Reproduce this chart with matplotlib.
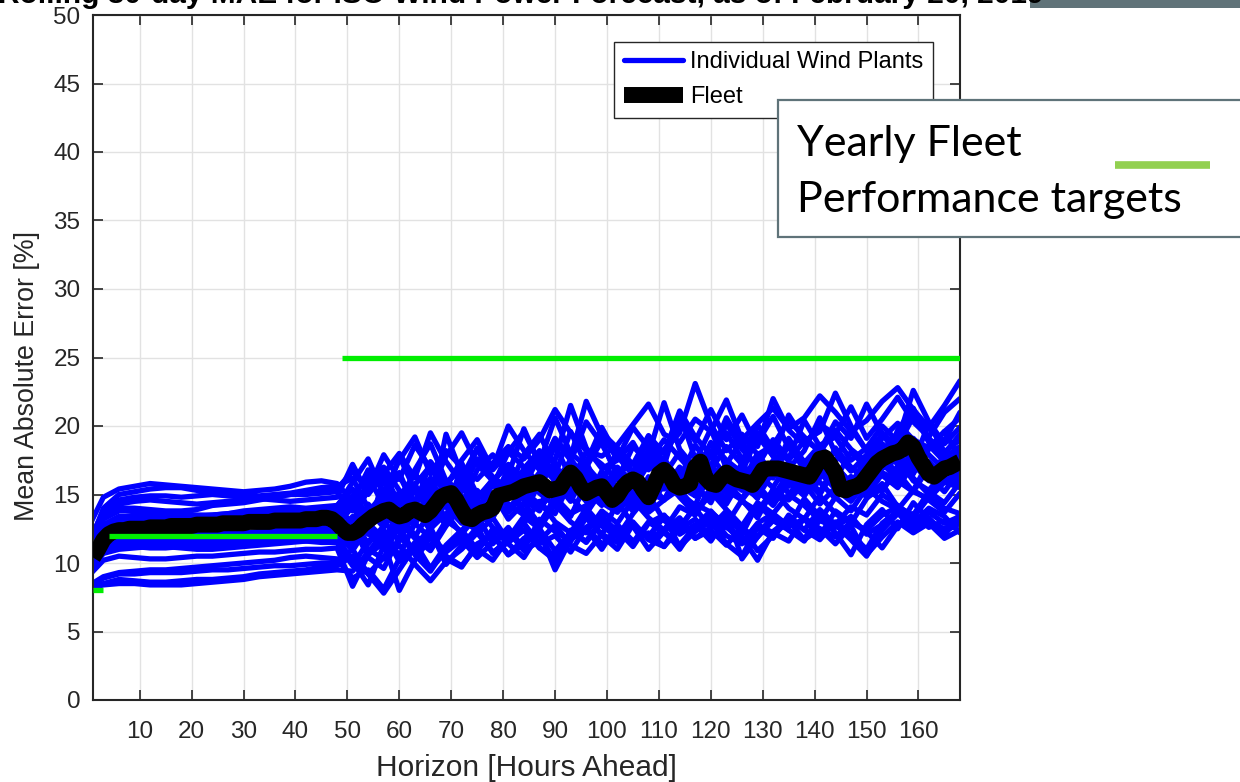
import matplotlib
matplotlib.use("Agg")
import matplotlib.pyplot as plt
from matplotlib.patches import Rectangle
from matplotlib.lines import Line2D

# ---------------- data ----------------
TITLE = "Rolling 30-day MAE for ISO Wind Power Forecast, as of February 20, 2019"
X_LABEL = "Horizon [Hours Ahead]"
Y_LABEL = "Mean Absolute Error [%]"
X_TICKS = [10, 20, 30, 40, 50, 60, 70, 80, 90, 100, 110, 120, 130, 140, 150, 160]
Y_TICKS = [0, 5, 10, 15, 20, 25, 30, 35, 40, 45, 50]
LEGEND_LABELS = ["Individual Wind Plants", "Fleet"]
BOX_LINES = ["Yearly Fleet", "Performance targets"]

# hours at which plant MAE values are given (every 3 hours)
PLANT_HOURS = list(range(0, 169, 3))

plant_01 = [12.5, 14.8, 15.4, 15.6, 15.8, 15.7, 15.6, 15.5, 15.4, 15.3, 15.2, 15.3, 15.4, 15.6, 15.9, 16.0, 15.8,
            14.5, 16.8, 15.2, 17.5, 19.2, 16.5, 18.2, 17.0, 16.1, 17.3, 18.5, 17.6, 19.0, 21.2, 19.5, 18.2, 17.8, 18.6, 20.1, 21.6,
            19.4, 18.8, 20.5, 19.6, 21.9, 19.0, 20.2, 21.3, 19.8, 20.6, 22.2, 21.0, 19.6, 20.4, 21.8, 22.8, 21.2, 19.9, 21.5, 23.3]
plant_02 = [11.0, 14.0, 15.0, 15.2, 15.4, 15.5, 15.5, 15.3, 15.2, 15.0, 15.0, 14.9, 15.0, 15.1, 15.3, 15.5, 15.6,
            16.2, 14.0, 13.5, 14.8, 16.5, 15.2, 17.8, 19.5, 17.2, 16.0, 17.1, 16.3, 18.0, 17.5, 21.5, 18.4, 16.9, 17.5, 18.8, 16.8,
            18.3, 19.5, 23.1, 20.1, 18.2, 19.4, 17.9, 18.6, 20.4, 19.2, 18.1, 19.7, 18.3, 17.4, 19.1, 20.2, 19.0, 18.4, 19.6, 20.6]
plant_03 = [11.5, 13.5, 14.0, 14.0, 13.9, 13.8, 13.8, 13.9, 14.2, 14.3, 14.4, 14.6, 14.8, 15.0, 15.0, 15.1, 15.2,
            13.8, 15.9, 17.0, 15.3, 14.6, 16.2, 15.5, 14.2, 16.8, 17.9, 16.4, 19.8, 17.2, 16.0, 17.4, 20.3, 18.7, 16.5, 17.3, 18.0,
            17.1, 20.9, 17.6, 16.8, 18.5, 17.2, 20.1, 18.3, 17.5, 18.9, 19.6, 22.4, 20.0, 18.2, 17.6, 19.3, 21.0, 18.8, 17.7, 18.5]
plant_04 = [11.0, 13.2, 13.8, 13.8, 13.7, 13.6, 13.5, 13.4, 13.5, 13.6, 13.8, 13.9, 14.0, 14.1, 14.0, 14.1, 14.2,
            15.4, 13.2, 14.8, 16.4, 14.1, 17.4, 15.9, 16.8, 14.9, 15.6, 18.1, 17.0, 15.8, 18.6, 16.2, 17.3, 19.9, 17.8, 16.4, 17.9,
            21.7, 18.3, 16.9, 18.1, 19.5, 17.6, 18.8, 20.7, 18.4, 17.3, 18.6, 19.2, 17.5, 18.4, 20.0, 18.9, 22.6, 20.3, 18.7, 19.9]
plant_05 = [10.8, 12.8, 13.4, 13.4, 13.3, 13.2, 13.2, 13.1, 13.2, 13.3, 13.4, 13.5, 13.6, 13.6, 13.7, 13.7, 13.6,
            12.3, 13.9, 12.6, 14.7, 15.8, 13.2, 14.5, 15.8, 13.5, 14.4, 15.9, 14.7, 16.2, 15.3, 17.6, 16.0, 15.1, 16.7, 15.4, 17.2,
            16.1, 15.0, 16.6, 17.8, 16.3, 15.5, 17.0, 16.2, 18.7, 17.4, 16.5, 17.1, 15.8, 17.6, 18.4, 17.2, 19.1, 17.9, 16.8, 18.2]
plant_06 = [10.5, 12.4, 13.0, 13.0, 13.1, 13.0, 12.9, 12.9, 13.0, 13.1, 13.1, 13.2, 13.2, 13.3, 13.3, 13.4, 13.3,
            14.6, 12.1, 16.3, 13.4, 12.8, 14.9, 13.3, 17.2, 14.6, 13.7, 14.8, 16.4, 15.1, 14.2, 15.8, 14.5, 16.7, 15.2, 14.1, 16.3,
            15.4, 17.0, 15.6, 14.4, 16.8, 15.9, 14.7, 17.5, 16.0, 15.3, 16.9, 15.7, 14.6, 16.4, 17.3, 16.1, 18.0, 17.2, 15.9, 17.0]
plant_07 = [10.2, 12.0, 12.6, 12.6, 12.5, 12.6, 12.6, 12.7, 12.7, 12.8, 12.8, 12.9, 12.9, 13.0, 13.0, 13.1, 13.0,
            11.6, 12.5, 13.8, 12.2, 14.3, 12.9, 15.2, 13.1, 12.4, 14.6, 13.7, 15.0, 14.2, 16.1, 14.8, 13.6, 15.3, 14.4, 16.0, 14.1,
            15.7, 14.9, 16.4, 15.5, 14.3, 16.2, 15.0, 14.8, 16.6, 15.4, 15.9, 14.7, 16.3, 15.2, 16.9, 17.6, 16.0, 15.3, 16.7, 16.1]
plant_08 = [9.8, 11.4, 11.8, 11.8, 11.8, 11.9, 11.8, 11.7, 11.6, 11.5, 11.6, 11.8, 11.9, 12.0, 12.1, 12.1, 12.2,
            10.9, 12.7, 11.4, 13.6, 12.0, 11.2, 13.1, 12.3, 14.0, 12.6, 11.8, 13.4, 12.5, 14.3, 13.0, 12.2, 13.8, 12.9, 14.6, 13.3,
            12.4, 14.1, 13.5, 15.2, 13.9, 12.7, 14.4, 13.6, 15.0, 14.2, 13.1, 14.8, 13.8, 15.5, 14.5, 13.9, 15.3, 14.6, 13.7, 15.1]
plant_09 = [9.5, 11.0, 11.3, 11.4, 11.5, 11.5, 11.6, 11.7, 11.8, 11.8, 11.8, 11.7, 11.7, 11.6, 11.6, 11.5, 11.5,
            9.8, 11.6, 12.4, 10.5, 12.9, 11.8, 10.9, 12.1, 13.5, 11.4, 12.6, 11.0, 13.2, 12.3, 11.6, 13.7, 12.0, 14.5, 12.8, 11.9,
            13.4, 12.7, 14.0, 12.5, 13.6, 12.1, 14.3, 13.2, 12.6, 14.7, 13.4, 12.8, 14.1, 13.5, 15.0, 14.2, 13.3, 14.8, 14.0, 13.6]
plant_10 = [9.2, 10.7, 11.0, 11.1, 11.2, 11.2, 11.1, 11.0, 11.0, 11.1, 11.2, 11.3, 11.4, 11.5, 11.6, 11.7, 11.7,
            12.8, 10.4, 9.6, 11.9, 10.8, 12.4, 9.9, 11.3, 12.6, 10.7, 11.8, 12.9, 11.1, 10.2, 12.4, 11.5, 13.0, 11.9, 12.7, 11.0,
            12.3, 13.3, 11.8, 12.6, 13.8, 10.3, 11.9, 13.1, 12.4, 11.6, 13.5, 12.2, 10.6, 12.8, 13.9, 12.5, 14.4, 13.2, 12.3, 12.9]
plant_11 = [9.0, 10.2, 10.5, 10.4, 10.3, 10.3, 10.4, 10.5, 10.5, 10.6, 10.7, 10.8, 10.8, 10.9, 11.0, 11.0, 11.1,
            8.3, 10.6, 11.5, 8.0, 10.2, 11.9, 10.5, 9.8, 11.2, 12.1, 10.6, 11.4, 12.3, 9.5, 11.7, 12.5, 11.0, 12.8, 11.6, 12.2,
            11.2, 12.9, 11.8, 12.4, 11.3, 12.6, 10.9, 12.0, 13.1, 11.7, 12.5, 11.4, 12.7, 10.6, 11.9, 13.0, 12.2, 12.9, 11.8, 12.4]
plant_12 = [8.3, 9.0, 9.3, 9.4, 9.5, 9.5, 9.6, 9.7, 9.8, 9.9, 10.0, 10.1, 10.2, 10.4, 10.5, 10.4, 10.3,
            8.9, 9.5, 8.1, 10.3, 11.1, 9.6, 10.8, 11.7, 10.4, 11.5, 12.3, 10.9, 11.6, 12.8, 11.3, 10.7, 12.1, 11.5, 12.9, 11.8,
            12.4, 11.0, 12.7, 13.4, 12.0, 11.4, 12.8, 12.2, 11.6, 13.3, 12.5, 11.9, 13.0, 12.3, 11.1, 12.7, 13.6, 12.6, 13.1, 12.3]
plant_13 = [8.2, 8.9, 9.2, 9.2, 9.3, 9.3, 9.3, 9.4, 9.5, 9.5, 9.6, 9.7, 9.8, 9.8, 9.9, 10.0, 10.0,
            11.0, 9.2, 10.4, 11.3, 9.9, 8.7, 10.1, 11.0, 12.2, 10.8, 11.5, 12.4, 11.1, 10.6, 11.9, 12.6, 11.4, 12.1, 13.0, 11.7,
            11.2, 12.5, 13.2, 11.9, 12.7, 11.5, 12.9, 13.6, 12.4, 11.8, 13.1, 12.6, 13.4, 12.1, 12.8, 13.7, 12.3, 13.0, 12.5, 13.2]
plant_14 = [8.0, 8.5, 8.8, 8.7, 8.6, 8.6, 8.7, 8.8, 8.8, 8.9, 9.0, 9.2, 9.3, 9.4, 9.5, 9.7, 9.8,
            10.5, 9.2, 7.8, 9.5, 11.2, 12.6, 10.3, 9.7, 11.4, 12.0, 10.6, 11.8, 12.5, 10.9, 12.2, 11.6, 13.1, 12.4, 11.2, 12.9,
            13.5, 12.1, 12.8, 11.6, 13.3, 12.5, 11.9, 13.6, 12.7, 13.2, 12.0, 13.8, 13.0, 12.4, 13.5, 14.1, 12.8, 13.7, 12.9, 13.4]
plant_15 = [8.1, 8.4, 8.5, 8.5, 8.4, 8.4, 8.4, 8.5, 8.6, 8.7, 8.8, 9.0, 9.1, 9.2, 9.3, 9.4, 9.5,
            9.4, 10.8, 12.2, 10.1, 11.5, 9.6, 11.3, 12.4, 11.0, 10.2, 11.8, 12.9, 11.4, 12.0, 10.8, 12.6, 13.4, 12.3, 11.5, 13.0,
            12.2, 11.3, 12.7, 13.8, 12.6, 11.9, 10.2, 12.3, 13.2, 12.4, 13.9, 12.8, 11.7, 10.5, 12.4, 13.6, 12.9, 14.0, 13.4, 12.2]
plant_16 = [10.6, 12.6, 13.3, 13.5, 13.6, 13.7, 13.6, 13.5, 13.5, 13.6, 13.7, 13.7, 13.8, 13.8, 13.9, 14.0, 14.1,
            15.9, 17.6, 15.0, 14.1, 16.8, 18.7, 16.0, 15.2, 17.6, 16.3, 15.4, 17.9, 19.4, 17.0, 15.9, 18.1, 17.2, 16.1, 18.5, 17.4,
            19.0, 17.7, 16.4, 18.8, 17.5, 16.6, 19.3, 17.8, 16.9, 18.2, 20.6, 18.0, 16.7, 17.9, 19.4, 18.6, 17.3, 20.2, 18.1, 19.0]
plant_17 = [10.3, 12.2, 12.9, 13.1, 13.2, 13.2, 13.3, 13.3, 13.4, 13.4, 13.5, 13.5, 13.6, 13.6, 13.6, 13.7, 13.8,
            14.9, 16.3, 14.2, 17.8, 15.3, 14.0, 19.4, 16.5, 14.8, 16.0, 17.2, 15.1, 16.6, 19.0, 17.5, 16.2, 15.3, 17.0, 15.9, 18.3,
            16.7, 15.5, 17.4, 19.8, 16.9, 15.8, 18.0, 16.4, 19.1, 17.3, 16.2, 18.4, 17.0, 16.0, 19.5, 17.7, 16.5, 18.6, 17.4, 18.0]
plant_18 = [10.0, 11.8, 12.3, 12.3, 12.2, 12.1, 12.0, 12.0, 12.0, 12.1, 12.1, 12.1, 12.2, 12.2, 12.3, 12.3, 12.4,
            13.2, 11.4, 12.7, 14.9, 13.0, 15.6, 14.1, 12.9, 15.3, 14.0, 16.7, 15.2, 14.3, 13.6, 16.0, 17.4, 14.8, 13.9, 15.6, 14.5,
            16.3, 15.1, 14.2, 16.9, 15.3, 14.6, 16.1, 17.3, 15.0, 16.4, 15.2, 17.1, 15.8, 14.9, 16.5, 15.6, 17.7, 16.3, 15.2, 16.8]
plant_19 = [9.9, 11.5, 12.0, 12.1, 12.0, 12.0, 11.9, 11.9, 12.0, 12.0, 12.1, 12.2, 12.3, 12.4, 12.4, 12.5, 12.5,
            11.7, 14.3, 13.1, 11.6, 13.9, 12.4, 14.7, 13.5, 12.6, 14.1, 15.4, 13.8, 12.9, 14.6, 13.4, 15.8, 14.4, 13.7, 15.1, 14.0,
            16.2, 14.8, 13.6, 15.5, 14.7, 16.8, 15.3, 14.2, 15.9, 14.9, 16.6, 15.4, 14.5, 16.0, 15.2, 17.1, 16.2, 15.0, 16.4, 15.7]
plant_20 = [9.7, 11.2, 11.6, 11.6, 11.5, 11.6, 11.7, 11.7, 11.6, 11.6, 11.5, 11.5, 11.6, 11.7, 11.9, 12.0, 12.0,
            12.6, 11.0, 10.3, 13.0, 11.8, 10.9, 12.7, 14.2, 12.1, 13.3, 11.6, 12.9, 14.5, 13.0, 12.2, 14.0, 12.7, 11.9, 13.6, 15.0,
            13.1, 12.4, 14.3, 13.7, 12.8, 14.6, 13.3, 15.4, 14.0, 13.2, 14.9, 13.6, 12.9, 14.7, 15.8, 14.1, 13.5, 15.2, 14.4, 15.9]
plant_21 = [11.2, 13.6, 14.3, 14.5, 14.6, 14.5, 14.4, 14.3, 14.4, 14.5, 14.6, 14.7, 14.6, 14.5, 14.6, 14.7, 14.8,
            17.2, 15.0, 16.5, 18.0, 16.2, 19.5, 17.4, 15.8, 18.3, 16.9, 20.0, 18.2, 16.8, 19.1, 17.7, 21.8, 19.3, 17.6, 19.9, 18.4,
            17.5, 20.3, 18.9, 21.2, 19.0, 20.8, 18.5, 22.0, 19.7, 18.6, 20.1, 19.4, 21.4, 19.1, 20.5, 22.1, 20.3, 19.2, 21.0, 22.0]
plant_22 = [9.6, 11.0, 11.4, 11.5, 11.4, 11.3, 11.3, 11.4, 11.5, 11.6, 11.6, 11.7, 11.8, 11.9, 12.0, 12.0, 11.9,
            10.1, 8.4, 11.3, 12.7, 10.6, 9.4, 11.1, 12.0, 10.8, 12.5, 11.4, 10.4, 12.2, 10.0, 11.6, 13.3, 12.0, 11.0, 12.8, 11.9,
            13.4, 11.2, 12.3, 13.1, 11.4, 10.5, 12.6, 11.8, 13.5, 12.4, 11.7, 13.0, 12.1, 11.0, 12.9, 13.8, 12.5, 13.3, 12.0, 13.6]
plant_23 = [10.4, 12.5, 13.1, 13.2, 13.3, 13.4, 13.4, 13.3, 13.3, 13.4, 13.5, 13.6, 13.7, 13.7, 13.8, 13.9, 13.9,
            13.0, 15.4, 16.6, 14.3, 15.7, 17.1, 14.8, 16.2, 18.4, 15.9, 14.7, 16.9, 18.2, 16.4, 19.6, 17.1, 15.8, 18.2, 16.6, 19.1,
            17.3, 16.2, 18.6, 17.0, 20.2, 18.3, 17.1, 19.0, 17.6, 20.4, 18.5, 17.4, 19.8, 18.2, 16.9, 19.7, 21.3, 19.1, 18.0, 19.4]
plant_24 = [10.1, 12.0, 12.7, 12.8, 12.8, 12.9, 12.9, 13.0, 13.0, 13.1, 13.1, 13.2, 13.2, 13.3, 13.4, 13.5, 13.5,
            12.1, 13.7, 15.1, 16.6, 14.0, 13.2, 15.6, 17.3, 15.0, 14.5, 16.9, 15.6, 17.8, 16.2, 15.4, 17.0, 18.9, 16.3, 15.5, 17.7,
            16.4, 18.1, 16.9, 15.6, 17.2, 19.0, 16.5, 17.4, 18.6, 16.8, 17.5, 16.1, 18.1, 17.0, 18.7, 17.9, 16.8, 18.3, 19.6, 17.6]
plant_25 = [9.9, 11.6, 12.2, 12.3, 12.3, 12.4, 12.5, 12.5, 12.6, 12.6, 12.7, 12.7, 12.8, 12.8, 12.9, 12.9, 12.8,
            14.1, 12.9, 11.8, 13.5, 15.3, 14.1, 12.8, 14.9, 13.7, 15.8, 14.3, 13.5, 15.9, 14.6, 17.2, 15.3, 14.2, 16.4, 15.0, 14.3,
            16.8, 15.6, 14.9, 17.1, 15.8, 14.7, 16.5, 15.5, 17.4, 16.1, 15.0, 16.9, 15.6, 17.8, 16.4, 15.5, 17.2, 16.0, 17.9, 16.6]
plant_26 = [9.8, 11.3, 11.8, 11.9, 11.9, 11.9, 12.0, 12.1, 12.1, 12.2, 12.2, 12.3, 12.4, 12.5, 12.6, 12.7, 12.7,
            11.2, 12.8, 14.6, 13.0, 11.9, 13.8, 15.5, 13.6, 14.7, 16.1, 14.0, 15.2, 13.9, 15.6, 17.0, 14.7, 16.2, 15.0, 13.8, 15.9,
            14.6, 16.8, 14.9, 16.0, 15.1, 17.3, 15.7, 14.4, 16.3, 15.4, 17.0, 16.2, 15.1, 16.5, 17.4, 16.0, 15.2, 17.0, 16.1, 17.5]
plant_27 = [11.4, 13.8, 14.6, 14.8, 14.9, 14.9, 14.8, 14.9, 15.0, 14.9, 14.8, 14.8, 14.9, 15.0, 15.2, 15.3, 15.4,
            16.7, 15.3, 17.9, 16.1, 18.6, 16.9, 15.6, 17.5, 19.0, 16.8, 18.1, 19.6, 17.3, 20.6, 18.0, 17.1, 19.5, 18.4, 17.2, 19.3,
            18.0, 21.1, 19.2, 17.9, 20.6, 18.7, 19.5, 17.8, 20.8, 19.0, 18.2, 20.3, 19.1, 21.6, 19.4, 18.5, 20.7, 19.8, 18.9, 21.0]
plant_28 = [10.6, 12.6, 13.2, 13.2, 13.1, 13.0, 13.0, 13.1, 13.1, 13.2, 13.3, 13.3, 13.3, 13.4, 13.4, 13.5, 13.6,
            14.4, 13.1, 14.9, 12.7, 14.2, 15.9, 14.6, 13.4, 15.1, 14.0, 16.2, 14.8, 15.7, 17.3, 15.0, 16.4, 15.2, 14.1, 16.6, 15.4,
            17.6, 16.0, 15.1, 17.0, 16.2, 15.3, 17.5, 16.7, 15.6, 17.2, 18.3, 16.4, 15.8, 16.9, 17.8, 16.5, 18.2, 17.1, 16.3, 17.4]
plant_29 = [10.2, 11.9, 12.4, 12.4, 12.5, 12.5, 12.5, 12.6, 12.6, 12.6, 12.7, 12.7, 12.8, 12.9, 12.9, 13.0, 13.1,
            12.9, 14.1, 13.0, 15.2, 13.8, 12.6, 14.4, 16.0, 14.2, 13.3, 15.4, 14.6, 13.8, 15.9, 14.5, 16.6, 15.1, 14.3, 16.1, 15.2,
            14.6, 16.3, 15.4, 14.8, 16.5, 15.6, 14.8, 16.7, 15.9, 15.0, 16.4, 17.2, 15.5, 14.9, 16.6, 16.0, 15.3, 17.4, 16.2, 16.8]
plant_30 = [9.4, 10.8, 11.2, 11.2, 11.1, 11.1, 11.2, 11.3, 11.3, 11.4, 11.5, 11.5, 11.6, 11.7, 11.8, 11.8, 11.9,
            13.4, 12.2, 11.0, 12.9, 14.0, 12.5, 13.6, 12.1, 13.9, 15.1, 13.2, 14.4, 12.8, 14.8, 13.6, 14.2, 15.6, 13.9, 15.0, 13.7,
            14.6, 15.4, 13.9, 14.9, 16.1, 14.5, 13.8, 15.3, 14.6, 15.8, 14.3, 15.5, 16.3, 14.8, 15.4, 16.6, 15.2, 14.7, 15.9, 15.5]

PLANTS = [plant_01, plant_02, plant_03, plant_04, plant_05, plant_06, plant_07, plant_08,
          plant_09, plant_10, plant_11, plant_12, plant_13, plant_14, plant_15, plant_16,
          plant_17, plant_18, plant_19, plant_20, plant_21, plant_22, plant_23, plant_24,
          plant_25, plant_26, plant_27, plant_28, plant_29, plant_30]

FLEET_HOURS = list(range(1, 169))
FLEET_MAE = [10.4, 11.0, 11.7, 12.1, 12.3, 12.4, 12.4, 12.5, 12.5, 12.5,
             12.5, 12.6, 12.6, 12.6, 12.6, 12.7, 12.7, 12.7, 12.7, 12.7,
             12.8, 12.8, 12.8, 12.8, 12.8, 12.9, 12.9, 12.9, 12.9, 12.9,
             13.0, 13.0, 13.0, 13.0, 13.0, 13.1, 13.1, 13.1, 13.1, 13.1,
             13.1, 13.2, 13.2, 13.2, 13.3, 13.3, 13.2, 12.9, 12.5, 12.2,
             12.2, 12.4, 12.8, 13.1, 13.4, 13.6, 13.8, 13.9, 13.6, 13.4,
             13.5, 13.8, 13.9, 13.7, 13.5, 13.8, 14.3, 14.8, 15.0, 15.1,
             14.6, 13.9, 13.3, 13.2, 13.5, 13.7, 13.8, 14.0, 14.9, 15.0,
             15.1, 15.2, 15.4, 15.6, 15.7, 15.8, 15.9, 15.6, 15.3, 15.4,
             15.5, 16.1, 16.6, 16.2, 15.5, 15.1, 15.3, 15.5, 15.6, 15.1,
             14.6, 14.9, 15.5, 15.9, 16.1, 15.9, 15.3, 14.8, 15.6, 16.5,
             16.8, 16.4, 15.7, 15.5, 15.6, 15.8, 17.0, 17.4, 16.2, 15.8,
             15.7, 16.2, 16.6, 16.3, 16.1, 16.0, 15.9, 15.7, 16.2, 16.8,
             16.9, 16.9, 16.9, 16.8, 16.7, 16.6, 16.5, 16.4, 16.3, 16.9,
             17.6, 17.7, 17.2, 16.6, 15.4, 15.3, 15.5, 15.6, 15.8, 16.3,
             16.8, 17.3, 17.6, 17.8, 18.0, 18.1, 18.3, 18.8, 18.5, 17.7,
             17.1, 16.5, 16.3, 16.6, 16.9, 17.0, 17.2, 17.4]

# yearly fleet performance targets (start hour, end hour, MAE %)
TARGET_START = [1, 4, 49]
TARGET_END = [3, 48, 168]
TARGET_VALUE = [8, 12, 25]

# ---------------- figure ----------------
W, H = 1240, 782
fig = plt.figure(figsize=(W / 100, H / 100), dpi=100)
fig.patch.set_facecolor("white")
ax = fig.add_axes([93 / W, 1 - 700 / H, (960 - 93) / W, (700 - 15) / H])

AXC = "#262626"
BASE_FONT = "Liberation Sans"

for i, series in enumerate(PLANTS):
    ax.plot(PLANT_HOURS, series, color="#0000ff", lw=3.8,
            solid_joinstyle="round", solid_capstyle="round",
            label=LEGEND_LABELS[0] if i == 0 else "_nolegend_", zorder=2)

ax.plot(FLEET_HOURS, FLEET_MAE, color="black", lw=11.5,
        solid_joinstyle="round", solid_capstyle="butt",
        label=LEGEND_LABELS[1], zorder=3)

for s, e, v in zip(TARGET_START, TARGET_END, TARGET_VALUE):
    ax.plot([s, e], [v, v], color="#00ee00", lw=3.8, solid_capstyle="butt", zorder=4)

ax.set_xlim(1, 168)
ax.set_ylim(0, 50)
ax.set_xticks(X_TICKS)
ax.set_yticks(Y_TICKS)
ax.set_xticklabels([str(t) for t in X_TICKS], family=BASE_FONT)
ax.set_yticklabels([str(t) for t in Y_TICKS], family=BASE_FONT)
ax.grid(True, color="#e2e2e2", lw=1.0)
ax.set_axisbelow(True)
for sp in ax.spines.values():
    sp.set_color(AXC)
    sp.set_linewidth(1.5)
ax.tick_params(axis="both", direction="in", length=7, width=1.2, colors=AXC,
               top=True, right=True, labelsize=17.5)
ax.tick_params(axis="x", pad=15)
ax.tick_params(axis="y", pad=9)

ax.set_xlabel(X_LABEL, fontsize=21.5, color=AXC, family=BASE_FONT)
ax.set_ylabel(Y_LABEL, fontsize=19.3, color=AXC, family=BASE_FONT)
ax.xaxis.set_label_coords(0.5, (700 - 754) / 685)
ax.yaxis.set_label_coords((40 - 93) / 867, (700 - 376) / 685)

leg = ax.legend(loc="upper right", bbox_to_anchor=((932.7 - 93) / 867, (700 - 41.7) / 685),
                bbox_transform=ax.transAxes, borderaxespad=0, fancybox=False,
                edgecolor=AXC, framealpha=1, handlelength=2.5, handletextpad=0.3,
                labelspacing=0.55, borderpad=0.4, prop={"family": BASE_FONT, "size": 17})
leg.get_frame().set_linewidth(1.0)
leg.set_zorder(6)

# title (partly cut off at the top of the image, as in the source)
fig.add_artist(Rectangle((1030 / W, 1 - 8 / H), 220 / W, 20 / H, transform=fig.transFigure,
                         facecolor="#607379", edgecolor="none", zorder=1))
fig.text(521 / W, 1 - 3 / H, TITLE, ha="center", va="baseline", fontsize=21.5,
         fontweight="bold", family=BASE_FONT, zorder=2)

# overlay annotation box
fig.add_artist(Rectangle((778 / W, 1 - 237 / H), (1260 - 778) / W, 137 / H,
                         transform=fig.transFigure, facecolor="white",
                         edgecolor="#5f7379", lw=1.6, zorder=10))
fig.text(797 / W, 1 - 156 / H, BOX_LINES[0], fontsize=31, family="Lato",
         va="baseline", ha="left", zorder=11)
fig.text(797 / W, 1 - 212 / H, BOX_LINES[1], fontsize=31, family="Lato",
         va="baseline", ha="left", zorder=11)
fig.add_artist(Line2D([1115 / W, 1210 / W], [1 - 165 / H, 1 - 165 / H],
                      transform=fig.transFigure, color="#92d050", lw=5.5,
                      solid_capstyle="butt", zorder=11))

fig.savefig("out.png", dpi=100)
